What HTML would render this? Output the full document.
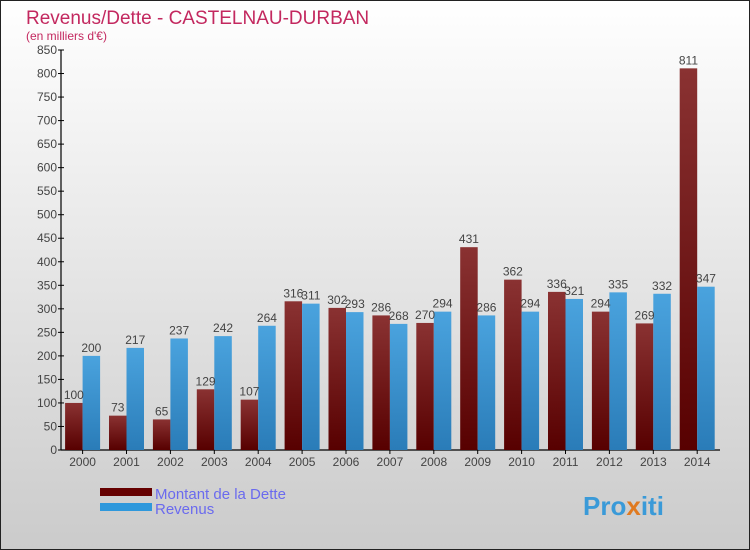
<!DOCTYPE html>
<html><head><meta charset="utf-8"><style>
body{margin:0}
#wrap{position:relative;width:750px;height:550px;overflow:hidden;font-family:"Liberation Sans",sans-serif}
</style></head><body>
<div id="wrap">
<svg id="chart" width="750" height="550" xmlns="http://www.w3.org/2000/svg">
<defs>
<linearGradient id="bg" x1="0" y1="0" x2="0" y2="1"><stop offset="0" stop-color="#ffffff"/><stop offset="1" stop-color="#cbcbcb"/></linearGradient>
<linearGradient id="gd" x1="0" y1="0" x2="0" y2="1"><stop offset="0" stop-color="#8a3232"/><stop offset="1" stop-color="#570000"/></linearGradient>
<linearGradient id="gr" x1="0" y1="0" x2="0" y2="1"><stop offset="0" stop-color="#4aa3de"/><stop offset="1" stop-color="#2a7cb8"/></linearGradient>
</defs>
<rect x="0.5" y="0.5" width="749" height="549" fill="url(#bg)" stroke="#222"/>
<text x="26" y="24" font-size="19" fill="#c3285f">Revenus/Dette - CASTELNAU-DURBAN</text>
<text x="26" y="40" font-size="12" fill="#c3285f">(en milliers d'€)</text>
<g id="axes"></g><g id="bars"></g>
<rect x="100" y="488" width="52" height="8" fill="#650000"/>
<rect x="100" y="503" width="52" height="8" fill="#2e98dc"/>
<text x="155" y="499" font-size="15" fill="#6a6aee">Montant de la Dette</text>
<text x="155" y="514" font-size="15" fill="#6a6aee">Revenus</text>
<text x="583" y="515" font-size="26" font-weight="bold" fill="#3a9ad8">Pro<tspan fill="#e07a20">x</tspan>iti</text>
</svg>
</div>
<script>
const years=["2000","2001","2002","2003","2004","2005","2006","2007","2008","2009","2010","2011","2012","2013","2014"];
const dette=[100,73,65,129,107,316,302,286,270,431,362,336,294,269,811];
const revenus=[200,217,237,242,264,311,293,268,294,286,294,321,335,332,347];
const yTicks=[0,50,100,150,200,250,300,350,400,450,500,550,600,650,700,750,800,850];
const NS="http://www.w3.org/2000/svg";
const y0=450,yTop=50,yMax=850,x0=61,step=43.9,bw=17.5;
const Y=v=>y0-(v/yMax)*(y0-yTop);
const X=i=>82.6+i*step;
const ax=document.getElementById('axes'),bg=document.getElementById('bars');
function mk(tag,at,parent){const e=document.createElementNS(NS,tag);for(const k in at)e.setAttribute(k,at[k]);parent.appendChild(e);return e;}
let l=mk('line',{x1:x0,y1:yTop,x2:x0,y2:y0,stroke:'#000','stroke-width':1.2},ax);


l=mk('line',{x1:x0,y1:y0,x2:720,y2:y0,stroke:'#000','stroke-width':1.2},ax);


yTicks.forEach(t=>{
  mk('line',{x1:x0-3,y1:Y(t),x2:x0+3,y2:Y(t),stroke:'#000'},ax);
  const tx=mk('text',{x:x0-4,y:Y(t)+4,'font-size':12,'text-anchor':'end',fill:'#444'},ax);
  tx.textContent=t;
  
  
});
years.forEach((yr,i)=>{
  const cx=X(i);
  mk('line',{x1:cx,y1:y0,x2:cx,y2:y0+4,stroke:'#000'},ax);
  const tx=mk('text',{x:cx,y:y0+16,'font-size':12,'text-anchor':'middle',fill:'#444'},ax);
  tx.textContent=yr;
  
  
  const r1=mk('rect',{x:cx-bw,y:Y(dette[i]),width:bw,height:y0-Y(dette[i]),fill:'url(#gd)'},bg);
  
  
  const r2=mk('rect',{x:cx,y:Y(revenus[i]),width:bw,height:y0-Y(revenus[i]),fill:'url(#gr)'},bg);
  
  
  const t1=mk('text',{x:cx-bw/2,y:Y(dette[i])-4,'font-size':12,'text-anchor':'middle',fill:'#444'},bg);
  t1.textContent=dette[i];
  
  
  const t2=mk('text',{x:cx+bw/2,y:Y(revenus[i])-4,'font-size':12,'text-anchor':'middle',fill:'#444'},bg);
  t2.textContent=revenus[i];
  
  
});
</script>
</body></html>
